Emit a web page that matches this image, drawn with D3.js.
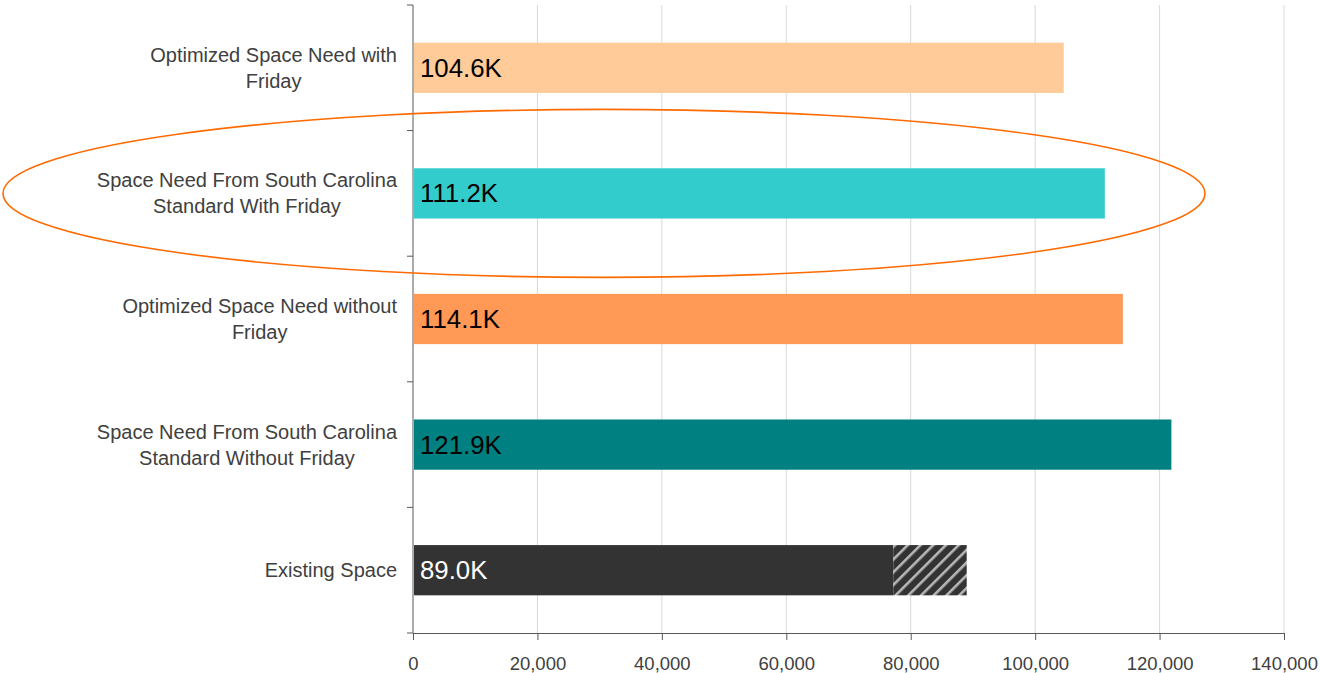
<!DOCTYPE html>
<html>
<head>
<meta charset="utf-8">
<script src="https://cdn.jsdelivr.net/npm/d3@7"></script>
<style>
  html, body { margin: 0; padding: 0; background: #fff; }
  svg { display: block; font-family: Arial, "Liberation Sans", sans-serif; }
</style>
</head>
<body>
<svg id="chart" width="1320" height="673"></svg>
<script>
// Space scenarios, top to bottom
const categories = [
  ["Optimized Space Need with", "Friday"],
  ["Space Need From South Carolina", "Standard With Friday"],
  ["Optimized Space Need without", "Friday"],
  ["Space Need From South Carolina", "Standard Without Friday"],
  ["Existing Space"]
];
const values = [104600, 111200, 114100, 121900, 89000];
const barColors = ["#FFCC99", "#33CCCC", "#FF9955", "#008080", "#333333"];
const labelColors = ["#000", "#000", "#000", "#000", "#fff"];
// Portion of the existing space drawn solid; the rest is hatched
const existingSolid = 77200;
const xTicks = [0, 20000, 40000, 60000, 80000, 100000, 120000, 140000];

const FONT = "Arial, 'Liberation Sans', sans-serif";
const svg = d3.select("#chart");
const plotLeft = 413, plotRight = 1284, plotTop = 5, plotBottom = 633;

const x = d3.scaleLinear().domain([0, 140000]).range([plotLeft, plotRight]);
const ids = categories.map((c, i) => i);
const y = d3.scaleBand().domain(ids).range([plotTop, plotBottom]).paddingInner(0.6).paddingOuter(0.3);

// Hatch pattern for the extra existing space
const defs = svg.append("defs");
const pat = defs.append("pattern")
  .attr("id", "hatch")
  .attr("patternUnits", "userSpaceOnUse")
  .attr("width", 9).attr("height", 9)
  .attr("patternTransform", "rotate(45)");
pat.append("rect").attr("width", 9).attr("height", 9).attr("fill", "#333333");
pat.append("rect").attr("x", 0).attr("width", 2.6).attr("height", 9).attr("fill", "#b8b8b8");

// Vertical gridlines
svg.append("g")
  .selectAll("line")
  .data(xTicks.slice(1))
  .join("line")
  .attr("x1", d => x(d)).attr("x2", d => x(d))
  .attr("y1", plotTop).attr("y2", plotBottom)
  .attr("stroke", "#d9d9d9").attr("stroke-width", 1);

// Bars
const bars = svg.append("g");
bars.selectAll("rect.bar")
  .data(values)
  .join("rect")
  .attr("class", "bar")
  .attr("x", x(0) + 1)
  .attr("y", (d, i) => y(i))
  .attr("width", (d, i) => (i === 4 ? x(existingSolid) : x(d)) - x(0) - 1)
  .attr("height", y.bandwidth())
  .attr("fill", (d, i) => barColors[i]);

bars.append("rect")
  .attr("x", x(existingSolid))
  .attr("y", y(4))
  .attr("width", x(values[4]) - x(existingSolid))
  .attr("height", y.bandwidth())
  .attr("fill", "url(#hatch)");

// Value labels inside the bars
svg.append("g")
  .selectAll("text")
  .data(values)
  .join("text")
  .attr("x", x(0) + 7)
  .attr("y", (d, i) => y(i) + y.bandwidth() / 2 + 9)
  .attr("font-size", 25.8)
  .attr("font-family", FONT)
  .attr("fill", (d, i) => labelColors[i])
  .text(d => (d / 1000).toFixed(1) + "K");

// Axes
const xAxis = d3.axisBottom(x).tickValues(xTicks).tickSize(7).tickSizeOuter(0)
  .tickFormat(d3.format(","));
const gx = svg.append("g").attr("transform", `translate(0,${plotBottom})`).call(xAxis);
gx.select(".domain").attr("stroke", "#595959");
gx.selectAll(".tick line").attr("stroke", "#595959");
gx.selectAll(".tick text")
  .attr("font-size", 18.5).attr("fill", "#404040")
  .attr("font-family", FONT)
  .attr("y", 36.5).attr("dy", 0);

const gy = svg.append("g");
gy.append("line")
  .attr("x1", plotLeft).attr("x2", plotLeft).attr("y1", plotTop).attr("y2", plotBottom)
  .attr("stroke", "#595959");
const step = y.step();
gy.selectAll("line.tk")
  .data(d3.range(categories.length + 1))
  .join("line")
  .attr("class", "tk")
  .attr("x1", plotLeft - 6).attr("x2", plotLeft)
  .attr("y1", i => plotTop + i * step).attr("y2", i => plotTop + i * step)
  .attr("stroke", "#595959");

// Category labels: multi-line blocks, centered, right edge near the axis
const labelRight = 397;
const lineH = 26;
categories.forEach((lines, i) => {
  const cy = y(i) + y.bandwidth() / 2;
  const t = gy.append("text")
    .attr("font-size", 20).attr("fill", "#404040")
    .attr("font-family", FONT)
    .attr("text-anchor", "middle");
  lines.forEach((ln, k) => {
    t.append("tspan")
      .attr("y", cy + (k - (lines.length - 1) / 2) * lineH + 7)
      .text(ln);
  });
  let w = 0;
  t.selectAll("tspan").each(function () { w = Math.max(w, this.getComputedTextLength()); });
  t.selectAll("tspan").attr("x", labelRight - w / 2);
});

// Highlight ellipse around the South Carolina "with Friday" scenario
svg.append("ellipse")
  .attr("cx", 604).attr("cy", y(1) + y.bandwidth() / 2)
  .attr("rx", 601).attr("ry", 84)
  .attr("fill", "none")
  .attr("stroke", "#FF6A00").attr("stroke-width", 1.6);
</script>
</body>
</html>
